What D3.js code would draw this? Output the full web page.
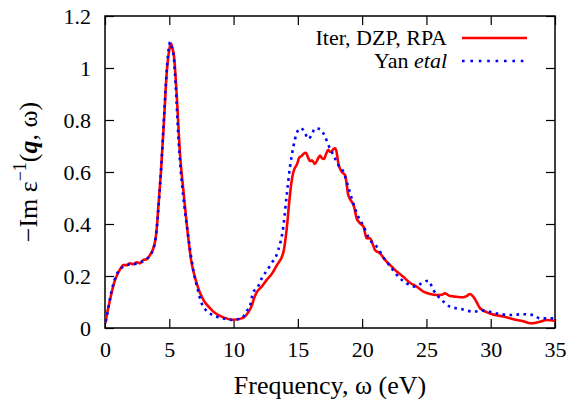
<!DOCTYPE html>
<html><head><meta charset="utf-8">
<script src="https://cdn.jsdelivr.net/npm/d3@7"></script>
<style>body{margin:0;background:#fff}svg{display:block}</style>
</head><body><svg id="c" width="571" height="399" font-family="Liberation Serif" font-size="22"></svg>
<script>
const xTicks = [0, 5, 10, 15, 20, 25, 30, 35];
const yTicks = [0, 0.2, 0.4, 0.6, 0.8, 1, 1.2];
const seriesNames = ["Iter, DZP, RPA", "Yan etal"];

const iterX = [0.05,0.08,0.39,0.78,1.04,1.25,1.43,1.69,1.94,2.2,2.46,2.72,2.98,3.24,3.5,3.71,3.89,4.0,4.15,4.36,4.59,4.8,5.0,5.12,5.25,5.37,5.57,5.83,6.09,6.35,6.7,7.13,7.65,8.17,8.42,9.2,9.98,10.63,10.95,11.2,11.41,11.6,11.8,12.2,12.58,13.0,13.35,13.87,14.13,14.34,14.5,14.65,14.96,15.1,15.3,15.45,15.63,15.8,15.95,16.1,16.33,16.5,16.72,16.85,17.03,17.2,17.37,17.5,17.63,17.75,17.89,18.0,18.15,18.41,18.67,18.92,19.18,19.35,19.57,19.83,20.1,20.35,20.61,21.0,21.39,21.78,22.3,22.69,23.2,23.72,24.24,24.76,25.28,25.8,26.2,26.44,26.83,27.35,27.87,28.2,28.39,28.65,28.9,29.17,29.94,30.98,32.02,32.6,33.06,33.5,33.83,34.35,35];
const iterY = [0.02,0.031,0.108,0.185,0.214,0.232,0.242,0.242,0.249,0.245,0.253,0.249,0.262,0.264,0.281,0.3,0.332,0.37,0.467,0.608,0.8,0.98,1.07,1.095,1.075,1.044,0.903,0.672,0.531,0.403,0.26,0.172,0.108,0.076,0.063,0.041,0.032,0.037,0.048,0.065,0.085,0.115,0.137,0.16,0.185,0.21,0.24,0.29,0.38,0.49,0.56,0.6,0.633,0.655,0.662,0.67,0.674,0.655,0.642,0.645,0.631,0.645,0.663,0.655,0.65,0.67,0.685,0.678,0.678,0.688,0.691,0.68,0.633,0.601,0.588,0.512,0.486,0.47,0.422,0.403,0.39,0.345,0.345,0.3,0.287,0.262,0.236,0.217,0.197,0.174,0.159,0.14,0.131,0.127,0.128,0.133,0.123,0.12,0.118,0.125,0.131,0.12,0.1,0.076,0.056,0.044,0.031,0.025,0.018,0.02,0.024,0.031,0.028];

const yanX = [0.05,0.1,0.5,1.0,1.5,2.0,2.5,3.0,3.5,3.8,4.0,4.2,4.4,4.6,4.8,5.0,5.07,5.2,5.35,5.5,5.7,5.9,6.1,6.4,6.87,7.2,7.52,8.17,9.2,9.85,10.63,11.02,11.28,11.54,11.8,12.19,12.5,12.96,13.48,13.87,14.13,14.39,14.65,14.91,15.17,15.48,15.81,16.07,16.33,16.72,17.11,17.37,17.76,18.15,18.54,18.92,19.31,19.7,20.09,20.61,21.13,21.78,22.3,22.82,23.46,24.11,24.63,25.15,25.54,26.19,26.83,27.61,28.65,29.42,30.46,31.5,32.54,33.31,33.83,35];
const yanY = [0.025,0.035,0.14,0.215,0.238,0.245,0.248,0.258,0.28,0.31,0.37,0.49,0.64,0.82,0.99,1.09,1.1,1.08,1.04,0.93,0.74,0.6,0.5,0.38,0.223,0.15,0.095,0.056,0.037,0.031,0.037,0.065,0.085,0.14,0.15,0.191,0.215,0.249,0.3,0.39,0.51,0.62,0.697,0.749,0.768,0.759,0.727,0.742,0.768,0.765,0.736,0.704,0.665,0.627,0.601,0.543,0.479,0.428,0.393,0.338,0.313,0.262,0.23,0.197,0.172,0.159,0.172,0.182,0.146,0.108,0.082,0.074,0.063,0.067,0.056,0.05,0.053,0.05,0.037,0.037];

const FONT = "Liberation Serif";
const svg = d3.select("#c");
const L = 105, R = 555, T = 16, B = 328;
const x = d3.scaleLinear().domain([0, 35]).range([L, R]);
const y = d3.scaleLinear().domain([0, 1.2]).range([B, T]);
const tl = 9;

svg.append("defs").append("clipPath").attr("id","clip").append("rect")
  .attr("x", L).attr("y", T).attr("width", R-L).attr("height", B-T);

const gx = svg.append("g").attr("transform", `translate(0,${B})`)
  .call(d3.axisBottom(x).tickValues(xTicks).tickSize(-tl).tickPadding(22).tickFormat(d3.format("d")));
const gxt = svg.append("g").attr("transform", `translate(0,${T})`)
  .call(d3.axisTop(x).tickValues(xTicks).tickSize(-tl).tickFormat(""));
const gy = svg.append("g").attr("transform", `translate(${L},0)`)
  .call(d3.axisLeft(y).tickValues(yTicks).tickSize(-tl).tickPadding(14).tickFormat(d => String(d)));
const gyr = svg.append("g").attr("transform", `translate(${R},0)`)
  .call(d3.axisRight(y).tickValues(yTicks).tickSize(-tl).tickFormat(""));
[gx, gxt, gy, gyr].forEach(g => {
  g.attr("font-family", FONT).attr("font-size", 22);
  g.select(".domain").remove();
  g.selectAll(".tick line").attr("stroke", "#000").attr("stroke-width", 1.2);
  g.selectAll("text").attr("fill", "#000");
});
gx.selectAll(".tick text").attr("dy", null).attr("y", 29);
gy.selectAll(".tick text").attr("dy", "0.36em");

svg.append("rect").attr("x", L).attr("y", T).attr("width", R-L).attr("height", B-T)
  .attr("fill", "none").attr("stroke", "#000").attr("stroke-width", 1.5);

const line = d3.line().x(d => x(d[0])).y(d => y(d[1])).curve(d3.curveMonotoneX);
const iter = iterX.map((v, i) => [v, iterY[i]]);
const yan = yanX.map((v, i) => [v, yanY[i]]);
const plot = svg.append("g").attr("clip-path", "url(#clip)");
plot.append("path").datum(iter).attr("d", line).attr("fill", "none")
  .attr("stroke", "#ff0000").attr("stroke-width", 2.6).attr("stroke-linejoin", "round");
plot.append("path").datum(yan).attr("d", line).attr("fill", "none")
  .attr("stroke", "#0000ff").attr("stroke-width", 2.6).attr("stroke-dasharray", "2.6,4.4");

// legend
const lg = svg.append("g").attr("font-family", FONT).attr("font-size", 22);
lg.append("text").attr("x", 447).attr("y", 45).attr("text-anchor", "end").text(seriesNames[0]);
lg.append("line").attr("x1", 462).attr("x2", 527).attr("y1", 38).attr("y2", 38)
  .attr("stroke", "#ff0000").attr("stroke-width", 2.6);
const t2 = lg.append("text").attr("x", 447).attr("y", 68).attr("text-anchor", "end");
t2.append("tspan").text("Yan ");
t2.append("tspan").attr("font-style", "italic").text("etal");
lg.append("line").attr("x1", 462).attr("x2", 527).attr("y1", 61).attr("y2", 61)
  .attr("stroke", "#0000ff").attr("stroke-width", 2.6).attr("stroke-dasharray", "2.6,5.8");

// axis labels
const lab = svg.append("g").attr("font-family", FONT).attr("font-size", 26);
lab.append("text").attr("x", 330).attr("y", 394).attr("text-anchor", "middle").text("Frequency, \u03c9 (eV)");
const yl = lab.append("text").attr("transform", "translate(37,172) rotate(-90)").attr("text-anchor", "middle");
yl.append("tspan").text("\u2212Im \u03b5");
yl.append("tspan").attr("font-size", 18).attr("dy", -11).text("\u22121");
yl.append("tspan").attr("dy", 11).text("(");
yl.append("tspan").attr("font-weight", "bold").attr("font-style", "italic").text("q");
yl.append("tspan").text(", \u03c9)");
</script></body></html>
